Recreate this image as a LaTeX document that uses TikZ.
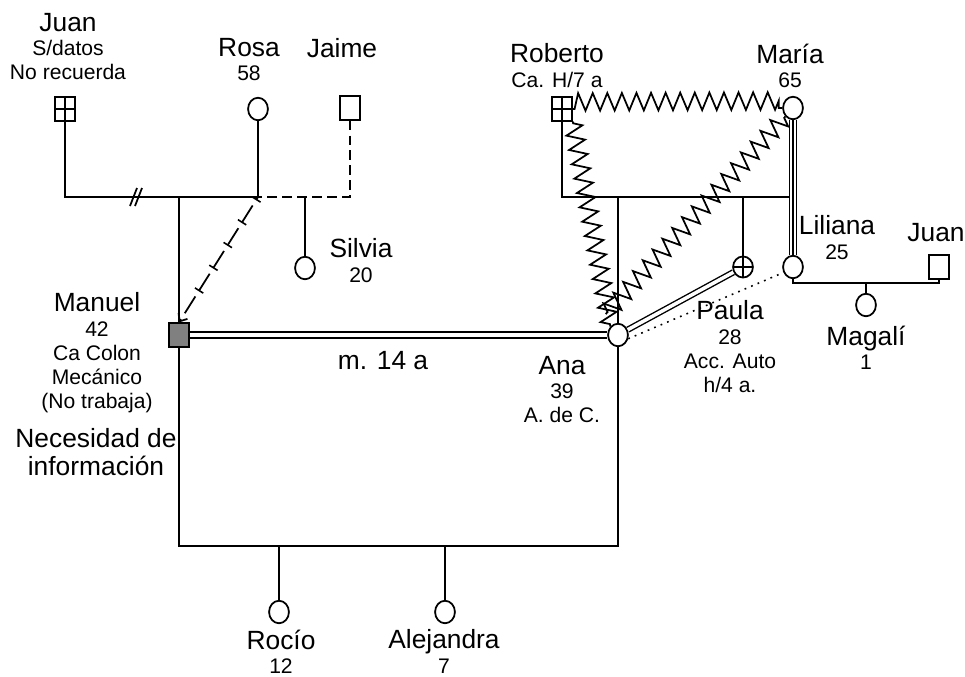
\documentclass[tikz,border=0pt]{standalone}
\usepackage{fontspec}
\setmainfont{Liberation Sans}
\usetikzlibrary{arrows.meta,shapes.geometric,decorations.pathmorphing,decorations.markings}
\newcommand\bigfnt{\fontsize{15}{15.9}\selectfont}
\newcommand\smfnt{\fontsize{12}{13.8}\selectfont}

\tikzset{
  male/.style={draw, rectangle, minimum width=11.3pt, minimum height=13.3pt, inner sep=0pt},
  female/.style={draw, ellipse, minimum width=11.3pt, minimum height=12.8pt, inner sep=0pt},
  crossed/.style={path picture={\draw (path picture bounding box.north) -- (path picture bounding box.south)
      (path picture bounding box.west) -- (path picture bounding box.east);}},
  lbl/.style={anchor=north, inner sep=0pt, align=center, font=\smfnt},
  conflict/.style={decorate, decoration={zigzag, segment length=8.3pt, amplitude=5pt,
      pre length=1pt, post length=1pt}},
  marriage/.style={double, double distance=2.7pt},
  tickline/.style={dash pattern=on 11.3pt off 4pt, dash phase=9.6pt,
      -{Straight Barb[length=3.5pt, width=6pt]},
      postaction={decorate}, decoration={markings,
      mark=between positions 1.7pt and -15pt step 15.3pt with {\draw[solid, -, line width=0.9pt] (0,-2.8pt) -- (0,2.8pt);}}}
}

\begin{document}
\begin{tikzpicture}[x=0.02cm, y=-0.02cm, line width=1pt]
  \useasboundingbox (0,0) rectangle (965,677);

  % generation lines
  \coordinate (gen1) at (0,197);
  \coordinate (gen2) at (0,546);
  \coordinate (gen3) at (0,283);

  % people
  \node[male, crossed] (juanA) at (65,109) {};
  \node[female] (rosa) at (258,109) {};
  \node[male] (jaime) at (350,108) {};
  \node[male, crossed] (roberto) at (562,109) {};
  \node[female] (maria) at (793,108) {};
  \node[female] (silvia) at (305,268) {};
  \node[male, fill=black!50] (manuel) at (179,335) {};
  \node[female] (ana) at (618,335) {};
  \node[female, crossed, minimum height=12pt] (paula) at (743,267) {};
  \node[female] (liliana) at (793,267) {};
  \node[male] (juanR) at (939,267) {};
  \node[female] (magali) at (866,305) {};
  \node[female] (rocio) at (279,612) {};
  \node[female] (alejandra) at (445,612) {};

  % labels
  \node[lbl] (lJuanA) at (68,12) {{\bigfnt Juan}\\S/datos\\No recuerda};
  \node[lbl] (lRosa) at (249,37) {{\bigfnt Rosa}\\58};
  \node[lbl, font=\bigfnt] (lJaime) at (342,38) {Jaime};
  \node[lbl] (lRoberto) at (557,43) {{\bigfnt Roberto}\\Ca. H/7 a};
  \node[lbl] (lMaria) at (790,43) {{\bigfnt María}\\65};
  \node[lbl] (lSilvia) at (361,238) {{\bigfnt Silvia}\\20};
  \node[lbl] (lManuel) at (97,292) {{\bigfnt Manuel}\\42\\Ca Colon\\Mecánico\\(No trabaja)};
  \node[lbl, font=\bigfnt] (lNeces) at (96,428) {Necesidad de\\información};
  \node[lbl, font=\bigfnt] (lMatr) at (383,350) {m. 14 a};
  \node[lbl] (lAna) at (562,355) {{\bigfnt Ana}\\39\\A. de C.};
  \node[lbl] (lPaula) at (730,300) {{\bigfnt Paula}\\28\\Acc. Auto\\h/4 a.};
  \node[lbl] (lLiliana) at (837,215) {{\bigfnt Liliana}\\25};
  \node[lbl, font=\bigfnt] (lJuanR) at (936,222) {Juan};
  \node[lbl] (lMagali) at (866,325) {{\bigfnt Magalí}\\1};
  \node[lbl] (lRocio) at (281,629) {{\bigfnt Rocío}\\12};
  \node[lbl] (lAlej) at (444,629) {{\bigfnt Alejandra}\\7};

  % Juan - Rosa - Jaime
  \draw (juanA.south) |- (rosa.south |- gen1) -- (rosa.south);
  \coordinate (cut) at (136,197);
  \draw (cut) ++(-6,9) -- ++(7,-18);
  \draw (cut) ++(-1,9) -- ++(7,-18);
  \draw[dash pattern=on 5.5pt off 3pt] (jaime.south) |- (rosa.south |- gen1);
  \draw (manuel.north) -- (manuel.north |- gen1);
  \draw (silvia.north) -- (silvia.north |- gen1);
  \draw[tickline] (rosa.south |- gen1) -- (manuel.north);

  % Manuel - Ana
  \draw[marriage] (manuel.east) -- (ana.west);
  \draw (manuel.south) -- (manuel.south |- gen2) -| (ana.south);
  \draw (rocio.north) -- (rocio.north |- gen2);
  \draw (alejandra.north) -- (alejandra.north |- gen2);

  % Roberto - Maria
  \draw (roberto.south) |- (maria.south |- gen1);
  \draw (ana.north) -- (ana.north |- gen1);
  \draw (paula.north) -- (paula.north |- gen1);
  \draw[line width=0.7pt, double, double distance=3pt] (maria.south) -- (liliana.north);
  \draw[line width=0.7pt] (maria.south) -- (liliana.north);
  \draw[conflict, decoration={raise=4pt}] (roberto.east) -- (maria.west);
  \draw[conflict] (roberto.south east) -- (ana.north west);
  \draw[conflict] (maria.south west) -- ([xshift=-7pt, yshift=5pt]ana.north);
  \draw[double, double distance=2pt, line width=0.8pt] (ana) -- (paula);
  \draw[line width=0.9pt, dash pattern=on 1pt off 3pt] (ana.-20) -- (liliana.-150);

  % Liliana - Juan
  \draw (liliana.south) |- (juanR.south |- gen3) -- (juanR.south);
  \draw (magali.north) -- (magali.north |- gen3);
\end{tikzpicture}
\end{document}
